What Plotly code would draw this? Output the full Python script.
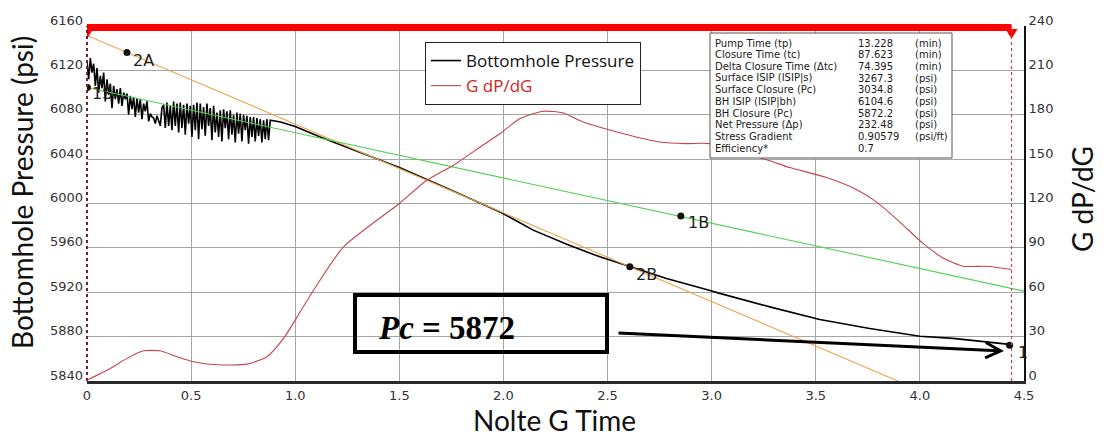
import plotly.graph_objects as go

# ---------------- data ----------------
# Bottomhole pressure: noisy early record, then the smooth decline to closure
noisy_g = [
    0.000, 0.008, 0.016, 0.024, 0.032, 0.040, 0.048, 0.056, 0.064, 0.072,
    0.080, 0.088, 0.096, 0.104, 0.112, 0.120, 0.128, 0.136, 0.144, 0.152,
    0.160, 0.168, 0.176, 0.184, 0.192, 0.200, 0.208, 0.216, 0.224, 0.232,
    0.240, 0.248, 0.256, 0.264, 0.272, 0.280, 0.288, 0.296, 0.304, 0.312,
    0.320, 0.328, 0.336, 0.344, 0.352, 0.360, 0.368, 0.376, 0.384, 0.392,
    0.400, 0.408, 0.416, 0.424, 0.432, 0.440, 0.448, 0.456, 0.464, 0.472,
    0.480, 0.488, 0.496, 0.504, 0.512, 0.520, 0.528, 0.536, 0.544, 0.552,
    0.560, 0.568, 0.576, 0.584, 0.592, 0.600, 0.608, 0.616, 0.624, 0.632,
    0.640, 0.648, 0.656, 0.664, 0.672, 0.680, 0.688, 0.696, 0.704, 0.712,
    0.720, 0.728, 0.736, 0.744, 0.752, 0.760, 0.768, 0.776, 0.784, 0.792,
    0.800, 0.808, 0.816, 0.824, 0.832, 0.840, 0.848, 0.856, 0.864, 0.872, 0.880,
]
noisy_bhp = [
    6128, 6112, 6131, 6118, 6126, 6106, 6122, 6100, 6115, 6104,
    6118, 6092, 6112, 6098, 6108, 6086, 6106, 6094, 6103, 6090,
    6104, 6088, 6100, 6094, 6099, 6080, 6097, 6085, 6096, 6078,
    6095, 6082, 6094, 6076, 6090, 6083, 6092, 6074, 6081, 6078,
    6077, 6072, 6079, 6074, 6070, 6086, 6089, 6068, 6091, 6070,
    6088, 6066, 6092, 6070, 6090, 6064, 6091, 6068, 6089, 6062,
    6090, 6072, 6088, 6060, 6089, 6066, 6091, 6058, 6090, 6067,
    6087, 6061, 6090, 6070, 6086, 6057, 6088, 6064, 6082, 6060,
    6084, 6056, 6085, 6068, 6083, 6058, 6084, 6062, 6080, 6055,
    6082, 6063, 6081, 6056, 6080, 6066, 6079, 6054, 6078, 6060,
    6078, 6056, 6077, 6061, 6076, 6055, 6075, 6058, 6076, 6057, 6075,
]
smooth_g = [0.93, 1.0, 1.12, 1.25, 1.5, 1.75, 1.984, 2.143, 2.304, 2.463, 2.607,
            2.783, 2.975, 3.039, 3.279, 3.519, 3.759, 4.0, 4.159, 4.431]
smooth_bhp = [6073.5, 6069.5, 6060, 6050.5, 6032.4, 6012, 5992.4, 5976, 5963.3, 5951.9,
              5942.9, 5932.4, 5922.5, 5919, 5906.8, 5895.5, 5887.4, 5880.4, 5878.4, 5873]

# G dP/dG derivative (right axis)
gdpdg_g = [0.0, 0.112, 0.192, 0.272, 0.352, 0.432, 0.512, 0.624, 0.768, 0.864, 0.944,
           1.024, 1.088, 1.232, 1.5, 1.632, 1.76, 1.888, 1.984, 2.08, 2.191, 2.287,
           2.383, 2.503, 2.623, 2.751, 2.879, 2.99, 3.271, 3.375, 3.551, 3.695, 3.791,
           3.903, 4.015, 4.111, 4.207, 4.319, 4.439]
gdpdg = [0.6, 8.5, 15.3, 20.4, 20.4, 16.4, 13.0, 11.0, 11.4, 16.4, 28.8,
         46.8, 61.4, 90.7, 120, 135.7, 145.9, 158.2, 167.3, 177.4, 182.4, 181.2,
         175.1, 170, 165.5, 161.6, 160.5, 160.5, 149.3, 144.3, 137.6, 129.5, 121.1,
         107.6, 93, 83.2, 77.6, 77.6, 75.4]

# straight-line fits
tangent_g = [0.0, 3.894]
tangent_bhp = [6151.5, 5840]
isip_line_g = [0.0, 4.5]
isip_line_bhp = [6104.6, 5921]

# picked points
pick_labels = ["1S", "2A", "2B", "1B", "1"]
pick_g = [0.002, 0.192, 2.607, 2.852, 4.431]
pick_bhp = [6104.6, 6136.1, 5943.0, 5988.8, 5872.2]

closure_g = 4.44
pc_value = 5872

# summary table
param_names = ["Pump Time (tp)", "Closure Time (tc)", "Delta Closure Time (Δtc)",
               "Surface ISIP (ISIP|s)", "Surface Closure (Pc)", "BH ISIP (ISIP|bh)",
               "BH Closure (Pc)", "Net Pressure (Δp)", "Stress Gradient", "Efficiency*"]
param_values = ["13.228", "87.623", "74.395", "3267.3", "3034.8", "6104.6",
                "5872.2", "232.48", "0.90579", "0.7"]
param_units = ["(min)", "(min)", "(min)", "(psi)", "(psi)", "(psi)",
               "(psi)", "(psi)", "(psi/ft)", ""]

# axis ticks
x_ticks = [0, 0.5, 1.0, 1.5, 2.0, 2.5, 3.0, 3.5, 4.0, 4.5]
x_ticktext = ["0", "0.5", "1.0", "1.5", "2.0", "2.5", "3.0", "3.5", "4.0", "4.5"]
bhp_ticks = [5840, 5880, 5920, 5960, 6000, 6040, 6080, 6120, 6160]
gdpdg_ticks = [0, 30, 60, 90, 120, 150, 180, 210, 240]

# ---------------- layout geometry ----------------
W, H = 1106, 437
ML, MR, MT, MB = 87, 82, 26, 56
PW = W - ML - MR
PH = H - MT - MB


def px_x(px):
    return (px - ML) / PW


def px_y(py):
    return (H - MB - py) / PH


TITLE_FONT = dict(family="Lato", size=28, color="#111")
TICK_FONT = dict(family="DejaVu Sans", size=13, color="#333")
GRID = "#a6a6a6"

fig = go.Figure()

fig.add_trace(go.Scatter(
    x=noisy_g + smooth_g, y=noisy_bhp + smooth_bhp, mode="lines",
    line=dict(color="#000", width=1.6), name="Bottomhole Pressure"))

fig.add_trace(go.Scatter(
    x=tangent_g, y=tangent_bhp, mode="lines",
    line=dict(color="#eca64f", width=1.1), showlegend=False))
fig.add_trace(go.Scatter(
    x=isip_line_g, y=isip_line_bhp, mode="lines",
    line=dict(color="#4fd34f", width=1.1), showlegend=False))

fig.add_trace(go.Scatter(
    x=pick_g, y=pick_bhp, mode="markers",
    marker=dict(color="#111", size=7), showlegend=False))

fig.add_trace(go.Scatter(
    x=gdpdg_g, y=gdpdg, yaxis="y2", mode="lines",
    line=dict(color="#c2454a", width=1.1, shape="spline", smoothing=0.6),
    name="<span style='color:#d41e1e'>G dP/dG</span>"))

shapes = []
# pumping period bar along the top, with end markers
shapes.append(dict(type="line", xref="x", yref="paper", x0=0, x1=closure_g,
                   y0=0.996, y1=0.996, line=dict(color="#ff0000", width=7)))
for xa in (0, closure_g):
    shapes.append(dict(type="path", xref="x", yref="paper", xsizemode="pixel",
                       ysizemode="pixel", xanchor=xa, yanchor=1.0,
                       path="M-6,-3 L6,-3 L0,-13 Z", fillcolor="#ff0000",
                       line=dict(color="#ff0000", width=0)))
# closure marker and start marker
shapes.append(dict(type="line", xref="x", yref="paper", x0=closure_g, x1=closure_g,
                   y0=0, y1=1, line=dict(color="#c04848", width=1.2, dash="dot")))
shapes.append(dict(type="line", xref="paper", yref="paper", x0=0, x1=0,
                   y0=0, y1=1, line=dict(color="#7a2020", width=2, dash="dot")))
# summary table frame
shapes.append(dict(type="rect", xref="paper", yref="paper",
                   x0=px_x(710), x1=px_x(952), y0=px_y(158), y1=px_y(33),
                   fillcolor="#fff", line=dict(color="#555", width=1), layer="above"))
# closure callout frame
shapes.append(dict(type="rect", xref="paper", yref="paper",
                   x0=px_x(355), x1=px_x(607), y0=px_y(352), y1=px_y(295),
                   line=dict(color="#000", width=4), layer="above"))

annotations = []
# axis titles
annotations.append(dict(text="Bottomhole Pressure (psi)", xref="paper", yref="paper",
                        x=px_x(22), y=px_y(193), textangle=-90, showarrow=False,
                        xanchor="center", yanchor="middle", font=TITLE_FONT))
annotations.append(dict(text="G dP/dG", xref="paper", yref="paper",
                        x=px_x(1082), y=px_y(199), textangle=-90, showarrow=False,
                        xanchor="center", yanchor="middle", font=TITLE_FONT))
annotations.append(dict(text="Nolte G Time", xref="paper", yref="paper",
                        x=px_x(554), y=px_y(420), showarrow=False,
                        xanchor="center", yanchor="middle", font=TITLE_FONT))

# point labels
label_shift = {"1S": (3, -6), "2A": (4, -8), "2B": (4, -8), "1B": (5, -7), "1": (6, -7)}
for lab, g, p in zip(pick_labels, pick_g, pick_bhp):
    dx, dy = label_shift[lab]
    annotations.append(dict(text=lab, x=g, y=p, xref="x", yref="y", showarrow=False,
                            xanchor="left", yanchor="middle", xshift=dx, yshift=dy,
                            font=dict(family="DejaVu Sans", size=16, color="#222")))

# summary table text
row0, row_h = 43.3, 11.65
for i, (nm, val, unit) in enumerate(zip(param_names, param_values, param_units)):
    yy = px_y(row0 + i * row_h)
    for txt, xpx in ((nm, 713), (val, 856), (unit, 913)):
        if txt:
            annotations.append(dict(text=txt, xref="paper", yref="paper",
                                    x=px_x(xpx), y=yy, showarrow=False,
                                    xanchor="left", yanchor="middle",
                                    font=dict(family="DejaVu Sans", size=10, color="#1a1a1a")))

# closure pressure callout
annotations.append(dict(text=f"<b><i>Pc</i> = {pc_value}</b>", xref="paper", yref="paper",
                        x=px_x(446), y=px_y(328), showarrow=False,
                        xanchor="center", yanchor="middle",
                        font=dict(family="Liberation Serif", size=33, color="#000")))
annotations.append(dict(text="", xref="paper", yref="paper",
                        x=px_x(1004), y=px_y(351), ax=617 - 1004, ay=333 - 351,
                        axref="pixel", ayref="pixel", showarrow=True,
                        arrowhead=5, arrowsize=1, arrowwidth=3, arrowcolor="#000",
                        standoff=0))

fig.update_layout(
    width=W, height=H,
    margin=dict(l=ML, r=MR, t=MT, b=MB, pad=0, autoexpand=False),
    paper_bgcolor="#fff", plot_bgcolor="#fff",
    xaxis=dict(range=[0, 4.5], tickvals=x_ticks, ticktext=x_ticktext,
               showgrid=True, gridcolor=GRID, gridwidth=1, zeroline=False,
               showline=True, linecolor="#2a2a2a", linewidth=3, ticks="",
               tickfont=TICK_FONT),
    yaxis=dict(range=[5840, 6160], tickvals=bhp_ticks,
               showgrid=True, gridcolor=GRID, gridwidth=1, zeroline=False,
               showline=False, ticks="", tickfont=TICK_FONT,
               ticklabelshift=-6, ticklabelstandoff=3),
    yaxis2=dict(range=[0, 240], tickvals=gdpdg_ticks, overlaying="y", side="right",
                showgrid=False, zeroline=False, showline=True, linecolor="#111",
                linewidth=2, ticks="", tickfont=TICK_FONT, ticklabelshift=-6),
    legend=dict(x=px_x(425), y=px_y(42), xanchor="left", yanchor="top",
                bgcolor="#fff", bordercolor="#222", borderwidth=1,
                font=dict(family="Open Sans", size=17, color="#111"),
                itemwidth=30, tracegroupgap=0),
    shapes=shapes, annotations=annotations,
    showlegend=True,
)

fig.write_html("out.html")
